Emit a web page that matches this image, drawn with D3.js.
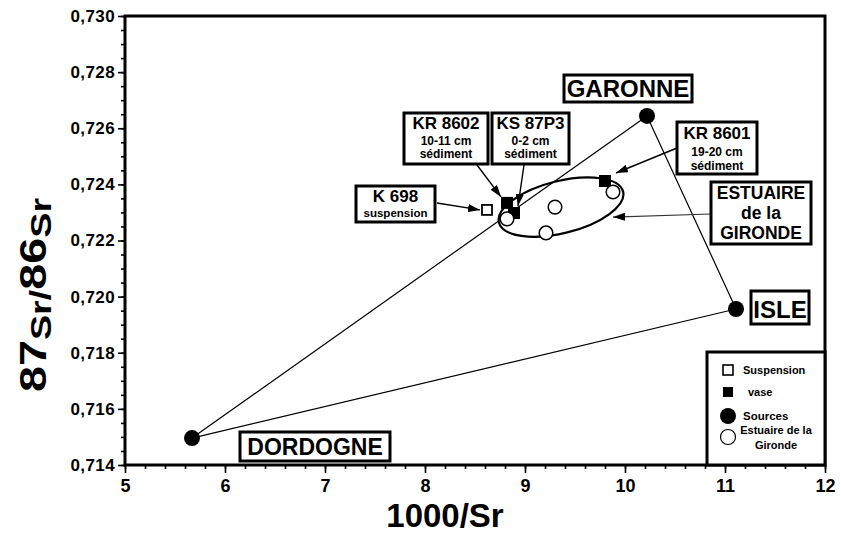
<!DOCTYPE html>
<html>
<head>
<meta charset="utf-8">
<script src="https://cdn.jsdelivr.net/npm/d3@7"></script>
<style>
  html, body { margin: 0; padding: 0; background: #fff; }
  svg { display: block; }
  text { font-family: "Liberation Sans", Arial, Helvetica, sans-serif; font-weight: bold; fill: #000; }
</style>
</head>
<body>
<svg id="chart" width="841" height="533"></svg>
<script>
// Axis ticks
const xTickValues = [5, 6, 7, 8, 9, 10, 11, 12];
const yTickValues = [0.714, 0.716, 0.718, 0.720, 0.722, 0.724, 0.726, 0.728, 0.730];

// River end-members (1000/Sr, 87Sr/86Sr)
const sourceNames = ["DORDOGNE", "GARONNE", "ISLE"];
const sourceX = [5.67, 10.22, 11.11];
const sourceY = [0.71496, 0.72644, 0.71956];

// Suspended matter
const suspensionNames = ["K 698"];
const suspensionX = [8.62];
const suspensionY = [0.72309];

// Sediment cores (vase)
const vaseNames = ["KR 8602", "KS 87P3", "KR 8601"];
const vaseX = [8.82, 8.89, 9.80];
const vaseY = [0.72334, 0.72298, 0.72412];

// Gironde estuary samples
const estuaryX = [8.82, 9.21, 9.30, 9.88];
const estuaryY = [0.72277, 0.72227, 0.72319, 0.72373];

// Envelope around the estuary samples: centre, half-axes (data units)
const envelopeCentre = [9.36, 0.72319];
const envelopeHalfAxes = [0.64, 0.00093];

const legendLabels = ["Suspension", "vase", "Sources", ["Estuaire de la", "Gironde"]];

const svg = d3.select("#chart");
const x = d3.scaleLinear().domain([5, 12]).range([125, 825]);
const y = d3.scaleLinear().domain([0.714, 0.730]).range([465, 16]);

const locale = d3.formatLocale({ decimal: ",", thousands: " ", grouping: [3], currency: ["", ""] });
const fmtY = locale.format(".3f");

// arrowhead
svg.append("defs").append("marker")
  .attr("id", "arrow").attr("markerUnits", "userSpaceOnUse")
  .attr("viewBox", "0 0 12 8").attr("refX", 12).attr("refY", 4)
  .attr("markerWidth", 12).attr("markerHeight", 8).attr("orient", "auto")
  .append("path").attr("d", "M0,0 L12,4 L0,8 Z").attr("fill", "#000");

// ---- axes ----
const xMinor = d3.range(5, 12.0001, 0.2).map(v => +v.toFixed(1));
const yMinor = d3.range(0.714, 0.73001, 0.0005).map(v => +v.toFixed(4));

const gx = svg.append("g").attr("transform", "translate(0,465)");
gx.call(d3.axisBottom(x).tickValues(xMinor).tickSize(4).tickFormat(""));
gx.append("g").call(d3.axisBottom(x).tickValues(xTickValues).tickSize(8).tickFormat(d3.format("d")));
gx.selectAll(".domain").remove();
gx.selectAll("line").attr("stroke", "#000").attr("stroke-width", 1.6);
gx.selectAll("text").attr("font-size", 18).attr("dy", "0.9em").attr("fill", "#000")
  .style("font-family", "'Liberation Sans', Arial, sans-serif").style("font-weight", "bold");

const gy = svg.append("g").attr("transform", "translate(125,0)");
gy.call(d3.axisLeft(y).tickValues(yMinor).tickSize(4).tickFormat(""));
gy.append("g").call(d3.axisLeft(y).tickValues(yTickValues).tickSize(7).tickFormat(fmtY));
gy.selectAll(".domain").remove();
gy.selectAll("line").attr("stroke", "#000").attr("stroke-width", 1.6);
gy.selectAll("text").attr("font-size", 17).attr("letter-spacing", 0.4).attr("fill", "#000")
  .style("font-family", "'Liberation Sans', Arial, sans-serif").style("font-weight", "bold");

// frame
svg.append("rect")
  .attr("x", x(5)).attr("y", y(0.730))
  .attr("width", x(12) - x(5)).attr("height", y(0.714) - y(0.730))
  .attr("fill", "none").attr("stroke", "#000").attr("stroke-width", 3);

// axis titles
svg.append("text").attr("x", 445).attr("y", 527).attr("text-anchor", "middle")
  .attr("font-size", 33).text("1000/Sr");

const yTitle = svg.append("text")
  .attr("transform", "translate(46,295) rotate(-90) scale(1.3,1)")
  .attr("text-anchor", "middle").attr("font-size", 36);
yTitle.append("tspan").text("87");
yTitle.append("tspan").attr("font-size", 29).attr("dy", 5).text("Sr/");
yTitle.append("tspan").attr("dy", -5).text("86");
yTitle.append("tspan").attr("font-size", 29).attr("dy", 5).text("Sr");

// ---- mixing triangle between the three sources ----
const src = sourceNames.map((n, i) => ({ name: n, x: sourceX[i], y: sourceY[i] }));
const pairs = [[0, 1], [0, 2], [1, 2]];
svg.append("g").selectAll("line").data(pairs).join("line")
  .attr("x1", d => x(src[d[0]].x)).attr("y1", d => y(src[d[0]].y))
  .attr("x2", d => x(src[d[1]].x)).attr("y2", d => y(src[d[1]].y))
  .attr("stroke", "#000").attr("stroke-width", 1.2);

// ---- estuary envelope ----
const ecx = x(envelopeCentre[0]), ecy = y(envelopeCentre[1]);
svg.append("ellipse")
  .attr("transform", `translate(${ecx},${ecy}) rotate(-14)`)
  .attr("rx", x(envelopeCentre[0] + envelopeHalfAxes[0]) - ecx)
  .attr("ry", y(envelopeCentre[1] - envelopeHalfAxes[1]) - ecy)
  .attr("fill", "none").attr("stroke", "#000").attr("stroke-width", 2.2);

// ---- annotation boxes (layout) ----
const boxes = [
  { lines: [["K 698", 17], ["suspension", 11.5]], x0: 356, y0: 186, x1: 435, y1: 222, base: [202, 217] },
  { lines: [["KR 8602", 17], ["10-11 cm", 12], ["sédiment", 12]], x0: 404, y0: 113, x1: 488, y1: 164, base: [129, 145, 158] },
  { lines: [["KS 87P3", 17], ["0-2 cm", 12], ["sédiment", 12]], x0: 492, y0: 113, x1: 569, y1: 164, base: [129, 145, 158] },
  { lines: [["KR 8601", 17], ["19-20 cm", 12], ["sédiment", 12]], x0: 677, y0: 122, x1: 757, y1: 174, base: [139, 156, 170] },
  { lines: [["GARONNE", 24]], x0: 564, y0: 75, x1: 692, y1: 102, base: [97] },
  { lines: [["ESTUAIRE", 17.5], ["de la", 17.5], ["GIRONDE", 17.5]], x0: 711, y0: 182, x1: 811, y1: 244, base: [199, 219, 239] },
  { lines: [["ISLE", 24]], x0: 751, y0: 291, x1: 809, y1: 324, base: [318] },
  { lines: [["DORDOGNE", 23]], x0: 240, y0: 432, x1: 390, y1: 461, base: [455] }
];

// arrows from labels to samples: start point (layout) and target sample with small offset
const arrows = [
  { from: [437, 203], to: [x(suspensionX[0]) - 7, y(suspensionY[0])], w: 1.4, c: "#000" },
  { from: [477, 165], to: [x(vaseX[0]) - 6, y(vaseY[0]) - 6], w: 1.4, c: "#000" },
  { from: [524, 165], to: [x(vaseX[1]) + 4, y(vaseY[1]) - 7], w: 1.4, c: "#000" },
  { from: [677, 148], to: [x(vaseX[2]) + 11, y(vaseY[2]) - 8], w: 1.4, c: "#000" },
  { from: [711, 214], to: [ecx + 52, ecy + 10], w: 1.2, c: "#333" }
];
svg.append("g").selectAll("line").data(arrows).join("line")
  .attr("x1", d => d.from[0]).attr("y1", d => d.from[1])
  .attr("x2", d => d.to[0]).attr("y2", d => d.to[1])
  .attr("stroke", d => d.c).attr("stroke-width", d => d.w)
  .attr("marker-end", "url(#arrow)");

// ---- data points ----
const vs = 12, ss = 10;
svg.append("g").selectAll("rect").data(vaseX.map((v, i) => [v, vaseY[i]])).join("rect")
  .attr("x", d => x(d[0]) - vs / 2).attr("y", d => y(d[1]) - vs / 2)
  .attr("width", vs).attr("height", vs).attr("fill", "#000");

svg.append("g").selectAll("rect").data(suspensionX.map((v, i) => [v, suspensionY[i]])).join("rect")
  .attr("x", d => x(d[0]) - ss / 2).attr("y", d => y(d[1]) - ss / 2)
  .attr("width", ss).attr("height", ss).attr("fill", "#fff").attr("stroke", "#000").attr("stroke-width", 1.8);

svg.append("g").selectAll("circle").data(estuaryX.map((v, i) => [v, estuaryY[i]])).join("circle")
  .attr("cx", d => x(d[0])).attr("cy", d => y(d[1])).attr("r", 6.8)
  .attr("fill", "#fff").attr("stroke", "#000").attr("stroke-width", 1.5);

svg.append("g").selectAll("circle").data(src).join("circle")
  .attr("cx", d => x(d.x)).attr("cy", d => y(d.y)).attr("r", 8)
  .attr("fill", "#000");

// draw label boxes
const gb = svg.append("g").selectAll("g").data(boxes).join("g");
gb.append("rect")
  .attr("x", d => d.x0).attr("y", d => d.y0)
  .attr("width", d => d.x1 - d.x0).attr("height", d => d.y1 - d.y0)
  .attr("fill", "#fff").attr("stroke", "#000").attr("stroke-width", 3);
gb.each(function (d) {
  const g = d3.select(this);
  d.lines.forEach((ln, i) => {
    g.append("text").attr("x", (d.x0 + d.x1) / 2).attr("y", d.base[i])
      .attr("text-anchor", "middle").attr("font-size", ln[1]).text(ln[0]);
  });
});

// ---- legend ----
const lg = svg.append("g");
lg.append("rect").attr("x", 707).attr("y", 352).attr("width", 825 - 707).attr("height", 465 - 352)
  .attr("fill", "#fff").attr("stroke", "#000").attr("stroke-width", 3);
const ly = [370, 392, 416, 437];
lg.append("rect").attr("x", 723).attr("y", ly[0] - 5).attr("width", 10).attr("height", 10)
  .attr("fill", "#fff").attr("stroke", "#000").attr("stroke-width", 1.6);
lg.append("rect").attr("x", 723).attr("y", ly[1] - 5).attr("width", 10).attr("height", 10).attr("fill", "#000");
lg.append("circle").attr("cx", 728).attr("cy", ly[2]).attr("r", 8).attr("fill", "#000");
lg.append("circle").attr("cx", 728).attr("cy", ly[3]).attr("r", 7.5)
  .attr("fill", "#fff").attr("stroke", "#000").attr("stroke-width", 1.2);
lg.append("text").attr("x", 743).attr("y", ly[0] + 4).attr("font-size", 11).text(legendLabels[0]);
lg.append("text").attr("x", 748).attr("y", ly[1] + 4).attr("font-size", 11).text(legendLabels[1]);
lg.append("text").attr("x", 743).attr("y", ly[2] + 4).attr("font-size", 11.5).text(legendLabels[2]);
lg.append("text").attr("x", 776).attr("y", ly[3] - 3).attr("text-anchor", "middle").attr("font-size", 11).text(legendLabels[3][0]);
lg.append("text").attr("x", 776).attr("y", ly[3] + 12).attr("text-anchor", "middle").attr("font-size", 11).text(legendLabels[3][1]);
</script>
</body>
</html>
